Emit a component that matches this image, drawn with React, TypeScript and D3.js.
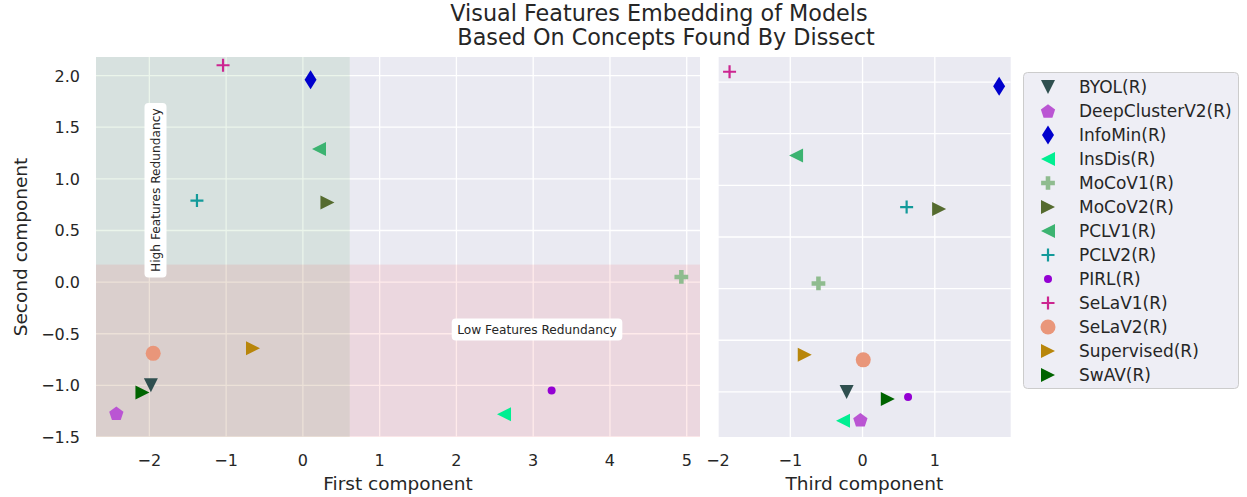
import { useEffect, useRef } from 'react'
import * as d3 from 'd3'

const models = ['BYOL(R)', 'DeepClusterV2(R)', 'InfoMin(R)', 'InsDis(R)', 'MoCoV1(R)', 'MoCoV2(R)', 'PCLV1(R)', 'PCLV2(R)', 'PIRL(R)', 'SeLaV1(R)', 'SeLaV2(R)', 'Supervised(R)', 'SwAV(R)']
const firstComponent = [-1.98, -2.43, 0.1, 2.62, 4.93, 0.32, 0.21, -1.38, 3.24, -1.04, -1.95, -0.65, -2.09]
const secondComponent = [-1.0, -1.27, 1.96, -1.28, 0.05, 0.77, 1.29, 0.79, -1.05, 2.1, -0.69, -0.64, -1.07]
const thirdComponent = [-0.22, -0.03, 1.89, -0.27, -0.61, 1.06, -0.92, 0.61, 0.63, -1.84, 0.01, -0.8, 0.35]

const markerColors = ['#2f4f4f', '#ba55d3', '#0000cd', '#00ef92', '#8fbc8f', '#556b2f', '#3cb371', '#139a9a', '#9400d3', '#cc2590', '#e9967a', '#b8860b', '#006400']
const markerShapes = ['v', 'p', 'd', '<', 'P', '>', '<', '+', '.', '+', 'o', '>', '>']

const firstTicks = [-2, -1, 0, 1, 2, 3, 4, 5]
const thirdTicks = [-2, -1, 0, 1]
const secondTicks = [-1.5, -1.0, -0.5, 0.0, 0.5, 1.0, 1.5, 2.0]

// shaded regions (data units)
const highRedundancyMaxX = 0.61
const lowRedundancyMaxY = 0.17

const TEXT = '#262626'
const FONT = 'DejaVu Sans, sans-serif'

function markerPath(shape: string): string {
  const line = d3.line()
  if (shape === 'v') return line([[-7, -7], [7, -7], [0, 7]]) + 'Z'
  if (shape === '<') return line([[7, -7], [7, 7], [-7, 0]]) + 'Z'
  if (shape === '>') return line([[-7, -7], [-7, 7], [7, 0]]) + 'Z'
  if (shape === 'd') return line([[0, -9.5], [6, 0], [0, 9.5], [-6, 0]]) + 'Z'
  if (shape === 'p') {
    const pts = d3.range(5).map(k => {
      const a = -Math.PI / 2 + (k * 2 * Math.PI) / 5
      return [7.5 * Math.cos(a), 7.5 * Math.sin(a) + 0.8] as [number, number]
    })
    return line(pts) + 'Z'
  }
  if (shape === 'P') return d3.symbol(d3.symbolCross, 105)() || ''
  if (shape === 'o') return d3.symbol(d3.symbolCircle, Math.PI * 7.5 * 7.5)() || ''
  if (shape === '.') return d3.symbol(d3.symbolCircle, Math.PI * 4 * 4)() || ''
  return 'M-6.5,0H6.5M0,-6.5V6.5'
}

function drawMarker(g: d3.Selection<SVGGElement, unknown, null, undefined>, i: number, x: number, y: number) {
  const shape = markerShapes[i]
  const p = g.append('path')
    .attr('d', markerPath(shape))
    .attr('transform', `translate(${x},${y})`)
  if (shape === '+') {
    p.attr('fill', 'none').attr('stroke', markerColors[i]).attr('stroke-width', 2.2)
  } else {
    p.attr('fill', markerColors[i])
  }
}

export default function App() {
  const svgRef = useRef<SVGSVGElement>(null)

  useEffect(() => {
    if (!svgRef.current) return
    const svg = d3.select(svgRef.current)
    svg.selectAll('*').remove()

    const top = 57
    const bottom = 437

    // left panel
    const x1 = d3.scaleLinear().domain([-2.695, 5.173]).range([96, 700])
    const y1 = d3.scaleLinear().domain([-1.5, 2.18]).range([bottom, top])
    // right panel
    const x3 = d3.scaleLinear().domain([-2.0, 2.05]).range([718, 1010.7])
    const y3 = d3.scaleLinear().domain([-1.437, 2.243]).range([bottom, top])

    const panels = [
      { x: x1, y: y1, xs: firstComponent, xTicks: firstTicks, label: 'First component', yLabels: true },
      { x: x3, y: y3, xs: thirdComponent, xTicks: thirdTicks, label: 'Third component', yLabels: false },
    ]

    panels.forEach((pn, pi) => {
      const [xa, xb] = pn.x.range()
      const g = svg.append('g')
      g.append('rect')
        .attr('x', xa).attr('y', top)
        .attr('width', xb - xa).attr('height', bottom - top)
        .attr('fill', '#eaeaf2')

      const inX = pn.xTicks.filter(t => pn.x(t) >= xa - 0.5 && pn.x(t) <= xb + 0.5)
      const inY = secondTicks.filter(t => pn.y(t) >= top - 0.5 && pn.y(t) <= bottom + 0.5)

      g.selectAll('.gx').data(inX).join('line')
        .attr('x1', d => pn.x(d)).attr('x2', d => pn.x(d))
        .attr('y1', top).attr('y2', bottom)
        .attr('stroke', '#fff').attr('stroke-width', 1.3)
      g.selectAll('.gy').data(inY).join('line')
        .attr('y1', d => pn.y(d)).attr('y2', d => pn.y(d))
        .attr('x1', xa).attr('x2', xb)
        .attr('stroke', '#fff').attr('stroke-width', 1.3)

      if (pi === 0) {
        // shaded regions drawn above grid
        g.append('rect')
          .attr('x', xa).attr('y', top)
          .attr('width', pn.x(highRedundancyMaxX) - xa).attr('height', bottom - top)
          .attr('fill', 'green').attr('fill-opacity', 0.08)
        g.append('rect')
          .attr('x', xa).attr('y', pn.y(lowRedundancyMaxY))
          .attr('width', xb - xa).attr('height', bottom - pn.y(lowRedundancyMaxY))
          .attr('fill', 'red').attr('fill-opacity', 0.08)
      }

      // x tick labels
      g.selectAll('.tx').data(pn.xTicks).join('text')
        .attr('x', d => pn.x(d)).attr('y', 466)
        .attr('text-anchor', 'middle')
        .attr('font-family', FONT).attr('font-size', 16).attr('fill', TEXT)
        .text(d => d3.format('d')(d).replace('-', '\u2212'))

      if (pn.yLabels) {
        g.selectAll('.ty').data(secondTicks).join('text')
          .attr('x', 80).attr('y', d => pn.y(d) + 6)
          .attr('text-anchor', 'end')
          .attr('font-family', FONT).attr('font-size', 16).attr('fill', TEXT)
          .text(d => d3.format('.1f')(d).replace('-', '\u2212'))
      }

      g.append('text')
        .attr('x', (xa + xb) / 2).attr('y', 490)
        .attr('text-anchor', 'middle')
        .attr('font-family', FONT).attr('font-size', 18.5).attr('fill', TEXT)
        .text(pn.label)

      const mg = svg.append('g')
      models.forEach((_, i) => drawMarker(mg, i, pn.x(pn.xs[i]), pn.y(secondComponent[i])))

      if (pi === 0) {
        const notes = [
          { text: 'High Features Redundancy', x: -1.92, y: 0.89, rot: -90 },
          { text: 'Low Features Redundancy', x: 3.05, y: -0.46, rot: 0 },
        ]
        notes.forEach(n => {
          const ng = svg.append('g')
            .attr('transform', `translate(${pn.x(n.x)},${pn.y(n.y)}) rotate(${n.rot})`)
          const rect = ng.append('rect').attr('fill', '#fff').attr('rx', 4)
          const t = ng.append('text')
            .attr('text-anchor', 'middle').attr('dy', '0.35em')
            .attr('font-family', FONT).attr('font-size', 12.2).attr('fill', TEXT)
            .text(n.text)
          const w = (t.node() as SVGTextElement).getComputedTextLength()
          rect.attr('x', -w / 2 - 5.5).attr('y', -11).attr('width', w + 11).attr('height', 22)
        })
      }
    })

    // y axis label
    svg.append('text')
      .attr('transform', 'translate(27,247) rotate(-90)')
      .attr('text-anchor', 'middle')
      .attr('font-family', FONT).attr('font-size', 18.5).attr('fill', TEXT)
      .text('Second component')

    // title
    const titleLines = ['Visual Features Embedding of Models', 'Based On Concepts Found By Dissect']
    svg.selectAll('.title').data(titleLines).join('text')
      .attr('x', (_, i) => (i === 0 ? 659 : 666)).attr('y', (_, i) => 21 + i * 24)
      .attr('text-anchor', 'middle')
      .attr('font-family', FONT).attr('font-size', 22.3).attr('fill', TEXT)
      .text(d => d)

    // legend
    const lg = svg.append('g')
    lg.append('rect')
      .attr('x', 1023.5).attr('y', 72.5).attr('width', 215).attr('height', 316)
      .attr('rx', 4)
      .attr('fill', '#eeeef5').attr('stroke', '#cccccc').attr('stroke-width', 1)
    const rowY = d3.scaleLinear().domain([0, models.length - 1]).range([87, 375])
    models.forEach((m, i) => {
      drawMarker(lg, i, 1048, rowY(i))
      lg.append('text')
        .attr('x', 1079).attr('y', rowY(i) + 6)
        .attr('font-family', FONT).attr('font-size', 17).attr('fill', TEXT)
        .text(m)
    })
  }, [])

  return (
    <svg ref={svgRef} width={1247} height={497}
      style={{ position: 'absolute', left: 0, top: 0, background: '#fff' }} />
  )
}
